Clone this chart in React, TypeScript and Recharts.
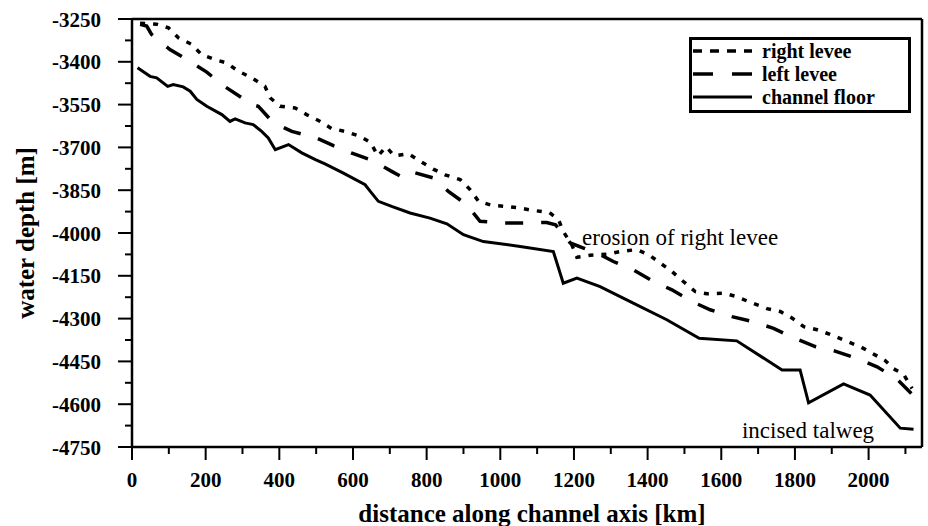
import React from 'react';
import { LineChart, Line, XAxis, YAxis, ReferenceLine, ReferenceDot } from 'recharts';

const rightLeveeKm = [22, 67, 99, 126, 162, 189, 225, 257, 289, 325, 361, 375, 402, 443, 474, 511, 542, 579, 619, 647, 668, 690, 712, 750, 782, 818, 850, 891, 918, 941, 977, 1018, 1049, 1090, 1133, 1158, 1171, 1194, 1208, 1244, 1289, 1325, 1371, 1403, 1434, 1466, 1497, 1529, 1561, 1606, 1642, 1679, 1724, 1760, 1792, 1824, 1860, 1905, 1941, 1977, 2009, 2045, 2068, 2095, 2118];
const rightLeveeDepth = [-3265, -3268, -3281, -3316, -3339, -3375, -3392, -3404, -3433, -3456, -3486, -3526, -3556, -3562, -3585, -3609, -3634, -3644, -3661, -3682, -3730, -3698, -3730, -3722, -3748, -3776, -3796, -3813, -3848, -3889, -3903, -3907, -3912, -3921, -3928, -3953, -3995, -4041, -4085, -4078, -4074, -4065, -4058, -4076, -4105, -4135, -4170, -4205, -4213, -4211, -4223, -4243, -4265, -4275, -4298, -4328, -4339, -4360, -4380, -4398, -4421, -4447, -4476, -4495, -4545];

const leftLeveeKm = [22, 40, 53, 103, 149, 203, 244, 298, 311, 343, 384, 434, 497, 547, 601, 651, 705, 733, 755, 818, 859, 909, 945, 1004, 1058, 1126, 1150, 1190, 1226, 1270, 1307, 1361, 1416, 1466, 1520, 1570, 1629, 1683, 1742, 1792, 1855, 1909, 1973, 2023, 2077, 2118];
const leftLeveeDepth = [-3269, -3275, -3304, -3357, -3392, -3436, -3480, -3526, -3544, -3556, -3614, -3644, -3665, -3694, -3722, -3745, -3784, -3804, -3784, -3807, -3854, -3901, -3959, -3965, -3965, -3963, -3971, -4035, -4053, -4075, -4100, -4129, -4170, -4199, -4240, -4269, -4293, -4310, -4334, -4365, -4398, -4414, -4442, -4469, -4512, -4565];

const floorKm = [15, 49, 67, 97, 112, 139, 158, 176, 203, 244, 266, 280, 307, 329, 352, 370, 389, 425, 461, 498, 524, 574, 633, 647, 669, 705, 755, 809, 855, 900, 954, 1054, 1144, 1171, 1208, 1271, 1361, 1452, 1540, 1642, 1765, 1814, 1837, 1932, 2004, 2086, 2122];
const floorDepth = [-3421, -3451, -3456, -3486, -3480, -3488, -3503, -3532, -3556, -3585, -3609, -3600, -3614, -3620, -3644, -3667, -3708, -3690, -3719, -3743, -3758, -3790, -3831, -3854, -3889, -3907, -3930, -3948, -3968, -4006, -4030, -4047, -4065, -4176, -4158, -4188, -4246, -4304, -4369, -4378, -4480, -4480, -4595, -4529, -4568, -4684, -4688];

const xTicks = [0, 100, 200, 300, 400, 500, 600, 700, 800, 900, 1000, 1100, 1200, 1300, 1400, 1500, 1600, 1700, 1800, 1900, 2000, 2100];
const xLabelTicks = [0, 200, 400, 600, 800, 1000, 1200, 1400, 1600, 1800, 2000];
const yTicks = [-4750, -4675, -4600, -4525, -4450, -4375, -4300, -4225, -4150, -4075, -4000, -3925, -3850, -3775, -3700, -3625, -3550, -3475, -3400, -3325, -3250];
const yLabelTicks = [-4750, -4600, -4450, -4300, -4150, -4000, -3850, -3700, -3550, -3400, -3250];

const seriesNames = ['right levee', 'left levee', 'channel floor'];
const annotationErosion = { km: 1222, depth: -4014, text: 'erosion of right levee' };
const annotationTalweg = { km: 1656, depth: -4691, text: 'incised talweg' };

const FONT = '"Liberation Serif", "Times New Roman", serif';

const zip = (xs: number[], ys: number[]) => xs.map((km, i) => ({ km, depth: ys[i] }));
const rightData = zip(rightLeveeKm, rightLeveeDepth);
const leftData = zip(leftLeveeKm, leftLeveeDepth);
const floorData = zip(floorKm, floorDepth);

const Y_TICK_SIZE = 14;
const Y_TICK_MARGIN = 17;
const X_TICK_SIZE = 13;
const X_TICK_MARGIN = 12;

const YTick = (props: any) => {
  const { x, y, payload } = props;
  const major = yLabelTicks.includes(payload.value);
  const axisX = x + Y_TICK_SIZE + Y_TICK_MARGIN;
  const len = major ? Y_TICK_SIZE : 7;
  return (
    <g>
      <line x1={axisX - len} x2={axisX} y1={y} y2={y} stroke="#000" strokeWidth={2} />
      {major && (
        <text x={x} y={y} dy="0.36em" textAnchor="end" fontFamily={FONT} fontWeight="bold" fontSize={21} fill="#000">
          {payload.value}
        </text>
      )}
    </g>
  );
};

const XTick = (props: any) => {
  const { x, y, payload } = props;
  const major = xLabelTicks.includes(payload.value);
  const axisY = y - X_TICK_SIZE - X_TICK_MARGIN;
  const len = major ? X_TICK_SIZE : 7;
  return (
    <g>
      <line x1={x} x2={x} y1={axisY} y2={axisY + len} stroke="#000" strokeWidth={2} />
      {major && (
        <text x={x} y={y} dy="0.71em" textAnchor="middle" fontFamily={FONT} fontWeight="bold" fontSize={21} fill="#000">
          {payload.value}
        </text>
      )}
    </g>
  );
};

const LEGEND_ROWS = [14, 37, 60];

const LegendBox = () => (
  <svg width={222} height={76} style={{ position: 'absolute', left: 689, top: 37 }}>
    <rect x={1.5} y={1.5} width={219} height={73} fill="#fff" stroke="#000" strokeWidth={3} />
    <line x1={4} x2={63} y1={LEGEND_ROWS[0]} y2={LEGEND_ROWS[0]} stroke="#000" strokeWidth={3.5} strokeDasharray="9 8" />
    <line x1={4} x2={63} y1={LEGEND_ROWS[1]} y2={LEGEND_ROWS[1]} stroke="#000" strokeWidth={3.5} strokeDasharray="20 19" />
    <line x1={4} x2={63} y1={LEGEND_ROWS[2]} y2={LEGEND_ROWS[2]} stroke="#000" strokeWidth={3} />
    {seriesNames.map((n, i) => (
      <text key={n} x={73} y={LEGEND_ROWS[i]} dy="0.33em" fontFamily={FONT} fontWeight="bold" fontSize={20} fill="#000">
        {n}
      </text>
    ))}
  </svg>
);

const textLabel = (text: string) => (p: any) => {
  const vb = p.viewBox || {};
  return (
    <text x={vb.x} y={vb.y} dy="0.33em" textAnchor="start" fontFamily={FONT} fontSize={23} fill="#000">
      {text}
    </text>
  );
};

export default function App() {
  return (
    <div style={{ position: 'absolute', left: 0, top: 0, width: 928, height: 526, background: '#fff' }}>
      <LineChart width={928} height={526} margin={{ top: 19, right: 6, bottom: 0, left: 0 }}>
        <XAxis
          dataKey="km"
          type="number"
          domain={[0, 2145]}
          ticks={xTicks}
          interval={0}
          height={79}
          allowDataOverflow
          axisLine={{ stroke: '#000', strokeWidth: 2.5 }}
          tickLine={false}
          tickSize={X_TICK_SIZE}
          tickMargin={X_TICK_MARGIN}
          tick={<XTick />}
          label={{
            content: (p: any) => {
              const vb = p.viewBox;
              return (
                <text x={vb.x + vb.width / 2 + 5} y={vb.y + 75} textAnchor="middle" fontFamily={FONT} fontWeight="bold" fontSize={25} fill="#000">
                  distance along channel axis [km]
                </text>
              );
            },
          }}
        />
        <YAxis
          dataKey="depth"
          type="number"
          domain={[-4750, -3250]}
          ticks={yTicks}
          interval={0}
          width={132}
          allowDataOverflow
          axisLine={{ stroke: '#000', strokeWidth: 2.5 }}
          tickLine={false}
          tickSize={Y_TICK_SIZE}
          tickMargin={Y_TICK_MARGIN}
          tick={<YTick />}
          label={{
            content: (p: any) => {
              const vb = p.viewBox;
              const cx = vb.x + 34;
              const cy = vb.y + vb.height / 2;
              return (
                <text x={cx} y={cy} transform={`rotate(-90, ${cx}, ${cy})`} textAnchor="middle" fontFamily={FONT} fontWeight="bold" fontSize={25} fill="#000">
                  water depth [m]
                </text>
              );
            },
          }}
        />
        <ReferenceLine y={-3250} stroke="#000" strokeWidth={2.5} />
        <ReferenceLine x={2145} stroke="#000" strokeWidth={2.5} />
        <Line data={rightData} dataKey="depth" name={seriesNames[0]} type="linear" stroke="#000" strokeWidth={3.5} strokeDasharray="5 8" dot={false} isAnimationActive={false} />
        <Line data={leftData} dataKey="depth" name={seriesNames[1]} type="linear" stroke="#000" strokeWidth={3.5} strokeDasharray="18 18" dot={false} isAnimationActive={false} />
        <Line data={floorData} dataKey="depth" name={seriesNames[2]} type="linear" stroke="#000" strokeWidth={3} dot={false} isAnimationActive={false} />
        <ReferenceDot x={annotationErosion.km} y={annotationErosion.depth} r={0} stroke="none" fill="none" label={{ content: textLabel(annotationErosion.text) }} />
        <ReferenceDot x={annotationTalweg.km} y={annotationTalweg.depth} r={0} stroke="none" fill="none" label={{ content: textLabel(annotationTalweg.text) }} />
      </LineChart>
      <LegendBox />
    </div>
  );
}
